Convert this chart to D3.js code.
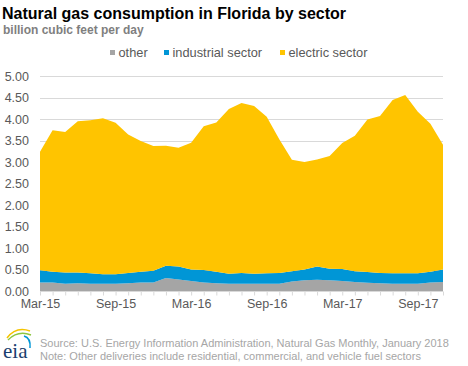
<!DOCTYPE html>
<html><head><meta charset="utf-8">
<script src="https://cdn.jsdelivr.net/npm/d3@7"></script>
<style>body{margin:0;background:#fff;}svg{display:block;font-family:"Liberation Sans",Arial,sans-serif;}</style>
</head><body>
<script>
const months = ["Mar-15","Apr-15","May-15","Jun-15","Jul-15","Aug-15","Sep-15","Oct-15","Nov-15","Dec-15",
"Jan-16","Feb-16","Mar-16","Apr-16","May-16","Jun-16","Jul-16","Aug-16","Sep-16","Oct-16","Nov-16","Dec-16",
"Jan-17","Feb-17","Mar-17","Apr-17","May-17","Jun-17","Jul-17","Aug-17","Sep-17","Oct-17","Nov-17"];
const other = [0.20,0.20,0.17,0.18,0.17,0.17,0.17,0.18,0.20,0.20,0.30,0.27,0.23,0.20,0.18,0.17,0.17,0.17,0.17,0.17,0.22,0.25,0.26,0.25,0.23,0.21,0.19,0.18,0.17,0.17,0.17,0.20,0.21];
const industrial = [0.28,0.25,0.26,0.25,0.24,0.22,0.22,0.24,0.25,0.27,0.29,0.30,0.27,0.29,0.27,0.23,0.25,0.23,0.24,0.25,0.24,0.25,0.31,0.27,0.28,0.25,0.25,0.24,0.24,0.24,0.24,0.25,0.29];
const electric = [2.76,3.29,3.27,3.52,3.56,3.63,3.52,3.22,3.04,2.90,2.79,2.76,2.95,3.34,3.47,3.83,3.95,3.90,3.64,3.11,2.59,2.50,2.49,2.62,2.93,3.15,3.55,3.65,4.03,4.15,3.76,3.44,2.90];
const yTicks = [0,0.5,1,1.5,2,2.5,3,3.5,4,4.5,5];
const xLabels = ["Mar-15","Sep-15","Mar-16","Sep-16","Mar-17","Sep-17"];
const seriesNames = ["other","industrial sector","electric sector"];
const colors = ["#a5a5a5","#0096d6","#ffc400"];

const W=468,H=366;
const svg=d3.select("body").append("svg").attr("width",W).attr("height",H);
const x=d3.scalePoint().domain(months).range([40,443]);
const y=d3.scaleLinear().domain([0,5]).range([291,76]);

// title
svg.append("text").attr("x",2).attr("y",19).attr("font-size",16).attr("font-weight","bold").attr("fill","#000").text("Natural gas consumption in Florida by sector");
svg.append("text").attr("x",3).attr("y",34).attr("font-size",12).attr("font-weight","bold").attr("fill","#7f7f7f").text("billion cubic feet per day");

// gridlines
svg.append("g").selectAll("line").data(yTicks.filter(d=>d>0)).join("line")
 .attr("x1",40).attr("x2",443).attr("y1",d=>Math.round(y(d))+0.5).attr("y2",d=>Math.round(y(d))+0.5)
 .attr("stroke","#d9d9d9").attr("stroke-width",1);

// stack
const data=months.map((m,i)=>({m,other:other[i],industrial:industrial[i],electric:electric[i]}));
const stack=d3.stack().keys(["other","industrial","electric"])(data);
const area=d3.area().x(d=>x(d.data.m)).y0(d=>y(d[0])).y1(d=>y(d[1]));
svg.append("g").selectAll("path").data(stack).join("path").attr("d",area).attr("fill",(d,i)=>colors[i]);

// y axis labels
const yAxis=d3.axisLeft(y).tickValues(yTicks).tickFormat(d3.format(".2f")).tickSize(0).tickPadding(11);
const ga=svg.append("g").attr("transform","translate(40,0)").call(yAxis);
ga.select(".domain").remove();
ga.selectAll("text").attr("font-size",12.5).attr("fill","#595959").attr("font-family","Liberation Sans, Arial, sans-serif");

// x axis
const xAxis=d3.axisBottom(x).tickValues(months).tickSize(4).tickFormat(d=>xLabels.includes(d)?d:"").tickPadding(4);
const gx=svg.append("g").attr("transform","translate(0,291.5)").call(xAxis);
gx.select(".domain").attr("stroke","#d9d9d9").attr("d","M40,0H443");
gx.selectAll(".tick line").attr("stroke","#d9d9d9");
gx.selectAll("text").attr("font-size",12.5).attr("fill","#595959").attr("font-family","Liberation Sans, Arial, sans-serif");

// legend
const legX=[110,164,280];
const lg=svg.append("g").selectAll("g").data(seriesNames).join("g").attr("transform",(d,i)=>`translate(${legX[i]},0)`);
lg.append("rect").attr("x",0).attr("y",50).attr("width",5).attr("height",5).attr("fill",(d,i)=>colors[i]);
lg.append("text").attr("x",8.5).attr("y",57).attr("font-size",12.8).attr("fill","#595959").text(d=>d);

// source
svg.append("text").attr("x",40).attr("y",346.5).attr("font-size",11).attr("fill","#a6a6a6").text("Source: U.S. Energy Information Administration, Natural Gas Monthly, January 2018");
svg.append("text").attr("x",40).attr("y",360).attr("font-size",11).attr("fill","#a6a6a6").text("Note: Other deliveries include residential, commercial, and vehicle fuel sectors");

// logo
const lgo=svg.append("g");
lgo.append("path").attr("d","M7,338 Q16,326 30,331").attr("fill","none").attr("stroke","#f5c400").attr("stroke-width",1.5);
lgo.append("path").attr("d","M8,340 Q18,330 31,335").attr("fill","none").attr("stroke","#8dc63f").attr("stroke-width",1.5);
lgo.append("path").attr("d","M24,336 Q31,338 30,348").attr("fill","none").attr("stroke","#0096d6").attr("stroke-width",1.5);
lgo.append("text").attr("x",3).attr("y",358).attr("font-family","Liberation Serif, Times New Roman, serif").attr("font-size",21).attr("fill","#1a3e6e").text("eia");
</script>
</body></html>
